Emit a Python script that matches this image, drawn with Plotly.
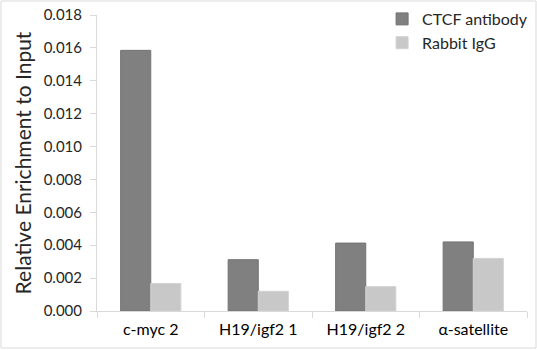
import plotly.graph_objects as go

# ChIP-qPCR enrichment relative to input
categories = ["c-myc 2", "H19/igf2 1", "H19/igf2 2", "α-satellite"]
ctcf_antibody = [0.01585, 0.00312, 0.00413, 0.00420]
rabbit_igg = [0.00167, 0.00120, 0.00148, 0.00320]
y_ticks = [0.000, 0.002, 0.004, 0.006, 0.008, 0.010, 0.012, 0.014, 0.016, 0.018]

FONT = "Lato, Calibri, Carlito, sans-serif"
TEXT = "#262626"

# plot frame in pixels: the legend sits in the band above the y-axis domain
W, H = 537, 350
L, R, T, B = 97, 10, 2, 39
PW, PH = W - L - R, H - T - B
Y_TOP_GAP = 13

fig = go.Figure()
fig.add_trace(go.Bar(
    name="CTCF antibody", x=categories, y=ctcf_antibody,
    marker=dict(color="#808080", line=dict(color="#737373", width=1)),
))
fig.add_trace(go.Bar(
    name="Rabbit IgG", x=categories, y=rabbit_igg,
    marker=dict(color="#c8c8c8", line=dict(color="#d2d2d2", width=1)),
))

fig.update_layout(
    width=W, height=H,
    margin=dict(l=L, r=R, t=T, b=B, autoexpand=False),
    paper_bgcolor="white", plot_bgcolor="white",
    barmode="group", bargap=0.44, bargroupgap=0,
    font=dict(family=FONT, size=16, color=TEXT),
    showlegend=True,
    legend=dict(
        x=0.663, y=1.0, xanchor="left", yanchor="top",
        bgcolor="rgba(0,0,0,0)", font=dict(size=16, color=TEXT),
        itemwidth=30, tracegroupgap=0,
    ),
    xaxis=dict(
        showline=True, linecolor="#d9d9d9", linewidth=1,
        ticks="outside", tickson="boundaries", ticklen=6, tickcolor="#d9d9d9",
        showgrid=False, tickfont=dict(size=16, color="#000000"),
        ticklabelstandoff=4,
    ),
    yaxis=dict(
        domain=[0, 1 - Y_TOP_GAP / PH],
        range=[0, 0.018], tickvals=y_ticks,
        ticktext=[f"{v:.3f}" for v in y_ticks],
        showline=True, linecolor="#d9d9d9", linewidth=1,
        ticks="outside", ticklen=6, tickcolor="#d9d9d9",
        showgrid=False, zeroline=False,
        tickfont=dict(size=15, color=TEXT),
        ticklabelstandoff=5,
        title=dict(text="Relative Enrichment to Input", font=dict(size=21, color=TEXT), standoff=6),
    ),
    shapes=[dict(
        type="rect", xref="paper", yref="paper",
        x0=-(L - 1) / PW, x1=1 + (R - 1) / PW, y0=-(B - 2) / PH, y1=1 + (T - 1) / PH,
        line=dict(color="#d9d9d9", width=1), fillcolor="rgba(0,0,0,0)", layer="below",
    )],
)

fig.write_html("out.html")
